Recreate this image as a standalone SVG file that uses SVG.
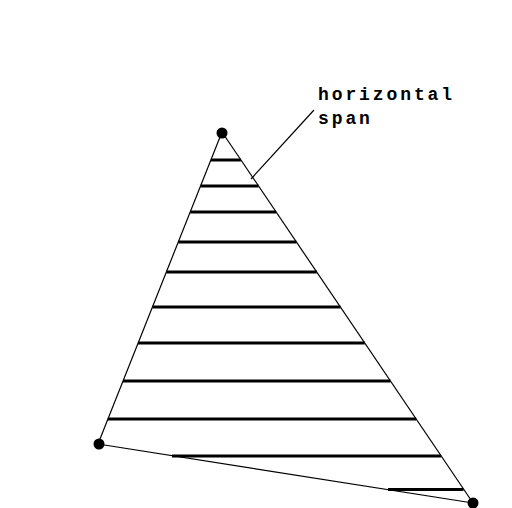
<svg xmlns="http://www.w3.org/2000/svg" width="512" height="508" viewBox="0 0 512 508">
<style>
.edge{stroke:#000;stroke-width:1.2;fill:none}
.span{stroke:#000;stroke-width:3;fill:none}
.dot{fill:#000}
.lbl{font-family:"Liberation Mono","Courier New",monospace;font-size:18px;font-weight:bold;letter-spacing:2.9px;fill:#000}
</style>
<rect width="512" height="508" fill="#fff"/>
<g id="connectors">
<line class="edge" x1="222" y1="132" x2="98" y2="444"/>
<line class="edge" x1="222" y1="132" x2="473" y2="503"/>
<line class="edge" x1="98" y1="444" x2="473" y2="503"/>
<line class="edge" x1="251" y1="179" x2="314" y2="110"/>
</g>
<g id="spans">
<line class="span" x1="210.9" y1="160" x2="240.9" y2="160"/>
<line class="span" x1="200.5" y1="186" x2="258.5" y2="186"/>
<line class="span" x1="190.2" y1="212" x2="276.1" y2="212"/>
<line class="span" x1="178.3" y1="242" x2="296.4" y2="242"/>
<line class="span" x1="166.4" y1="272" x2="316.7" y2="272"/>
<line class="span" x1="152.5" y1="307" x2="340.4" y2="307"/>
<line class="span" x1="138.1" y1="343" x2="364.7" y2="343"/>
<line class="span" x1="123.0" y1="381" x2="390.4" y2="381"/>
<line class="span" x1="107.9" y1="419" x2="416.2" y2="419"/>
<line class="span" x1="172" y1="456" x2="441.2" y2="456"/>
<line class="span" x1="388" y1="489.5" x2="463.5" y2="489.5"/>
</g>
<g id="v-top"><circle class="dot" cx="222" cy="133" r="5.5"/></g>
<g id="v-left"><circle class="dot" cx="99" cy="444" r="5.5"/></g>
<g id="v-right"><circle class="dot" cx="473" cy="503" r="5.5"/></g>
<g id="label">
<text class="lbl" x="318" y="100">horizontal</text>
<text class="lbl" x="318" y="124">span</text>
</g>
</svg>
